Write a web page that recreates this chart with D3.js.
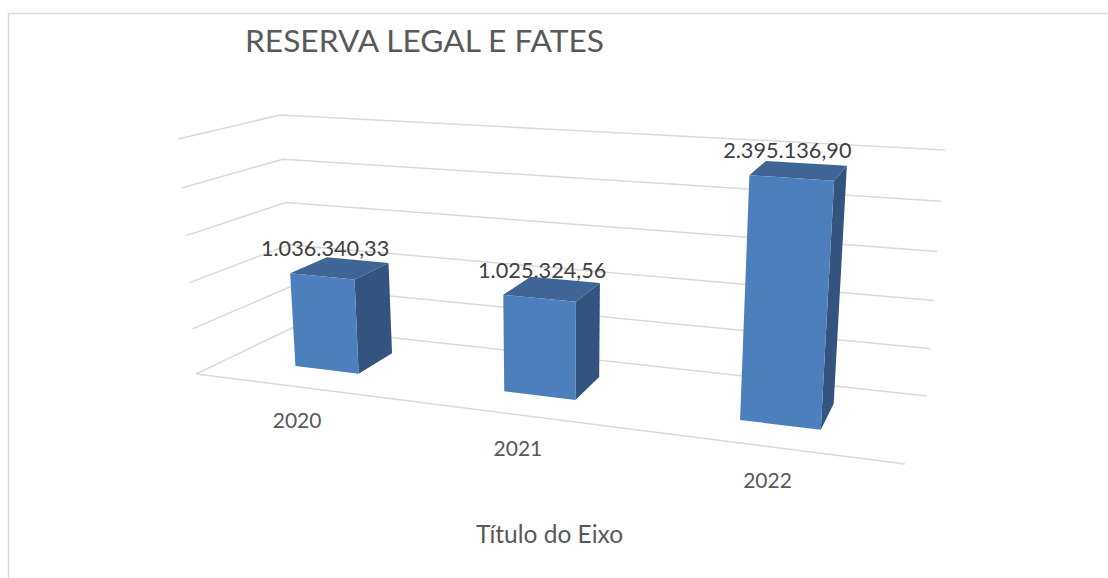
<!DOCTYPE html>
<html>
<head>
<meta charset="utf-8">
<script src="https://cdn.jsdelivr.net/npm/d3@7"></script>
<style>
  html, body { margin: 0; background: #fff; }
  text { font-family: Lato, "Open Sans", sans-serif; }
</style>
</head>
<body>
<div id="chart"></div>
<script>
var title = "RESERVA LEGAL E FATES";
var axisTitle = "Título do Eixo";
var years = ["2020", "2021", "2022"];
var values = [1036340.33, 1025324.56, 2395136.90];
var valueLabels = ["1.036.340,33", "1.025.324,56", "2.395.136,90"];
var gridValues = [0, 500000, 1000000, 1500000, 2000000, 2500000];

var width = 1108, height = 578;

// corners of the 3d box on screen: f = front, b = back, l/r = left/right, 0/1 = floor/top
var box = {
  fl0: [196, 374], fr0: [905, 464], bl0: [294, 327], br0: [927, 396],
  fl1: [178, 139], fr1: [924, 188], bl1: [280, 115], br1: [945, 150]
};

var persp = function(t, c) { return t * (1 + c) / (1 + c * t); };

var xBand = d3.scaleBand().domain(years).range([0, 1]).paddingInner(0.685).paddingOuter(0.3425);
var yScale = d3.scaleLinear().domain([0, 2500000]).range([0, 1]);
var depthFront = 0.34, depthBack = 0.74;

// t: 0..1 along the category axis, d: 0..1 into the depth, val: data value
function project(t, d, val) {
  var u = persp(t, -0.1685), h = persp(yScale(val), -0.05);
  return [0, 1].map(function(i) {
    var front0 = box.fl0[i] + (box.fr0[i] - box.fl0[i]) * u,
        back0 = box.bl0[i] + (box.br0[i] - box.bl0[i]) * u,
        front1 = box.fl1[i] + (box.fr1[i] - box.fl1[i]) * u,
        back1 = box.bl1[i] + (box.br1[i] - box.bl1[i]) * u,
        floor = front0 + (back0 - front0) * d,
        top = front1 + (back1 - front1) * d;
    return floor + (top - floor) * h;
  });
}

var svg = d3.select("#chart").append("svg")
  .attr("width", width)
  .attr("height", height)
  .style("display", "block");

// chart frame, only top and left show in the crop
svg.append("path")
  .attr("d", "M8.5," + height + "V13.5H" + width)
  .attr("fill", "none")
  .attr("stroke", "#d9d9d9")
  .attr("stroke-width", 1.5);

var line = d3.line();

// grid on the side and back walls
var grid = svg.append("g").attr("fill", "none").attr("stroke", "#d9d9d9").attr("stroke-width", 1.5);
grid.selectAll("path.wall").data(gridValues).enter().append("path")
  .attr("class", "wall")
  .attr("d", function(v) {
    return line([project(0, 0, v), project(0, 1, v), project(1, 1, v)]);
  });
grid.append("path").attr("d", line([project(0, 0, 0), project(1, 0, 0)]));

// bars
var rows = years.map(function(y, i) { return { year: y, value: values[i], label: valueLabels[i] }; });
var bars = svg.selectAll("g.bar").data(rows).enter().append("g").attr("class", "bar");

var corners = function(d) {
  var a = xBand(d.year), b = a + xBand.bandwidth();
  return {
    a: a, b: b,
    top: [project(a, depthFront, d.value), project(b, depthFront, d.value), project(b, depthBack, d.value), project(a, depthBack, d.value)],
    bottom: [project(a, depthFront, 0), project(b, depthFront, 0), project(b, depthBack, 0)]
  };
};

bars.append("path")
  .attr("fill", "#32547e")
  .attr("d", function(d) {
    var c = corners(d);
    return line([c.top[1], c.top[2], c.bottom[2], c.bottom[1]]) + "Z";
  });
bars.append("path")
  .attr("fill", "#3e6595")
  .attr("d", function(d) { return line(corners(d).top) + "Z"; });
bars.append("path")
  .attr("fill", "#4e7fbd")
  .attr("d", function(d) {
    var c = corners(d);
    return line([c.top[0], c.top[1], c.bottom[1], c.bottom[0]]) + "Z";
  });

// value labels sit a bit off the bar centre, as in the original
var labelNudge = [3, 3, -4];
svg.selectAll("text.value").data(rows).enter().append("text")
  .attr("class", "value")
  .attr("text-anchor", "middle")
  .attr("fill", "#404040")
  .attr("font-size", 21.7)
  .attr("x", function(d, i) { return project(xBand(d.year) + xBand.bandwidth() / 2, depthFront, d.value)[0] + labelNudge[i]; })
  .attr("y", function(d) { return project(xBand(d.year) + xBand.bandwidth() / 2, depthFront, d.value)[1] - 20; })
  .text(function(d) { return d.label; });

// category labels follow the front edge
svg.selectAll("text.year").data(years).enter().append("text")
  .attr("class", "year")
  .attr("text-anchor", "middle")
  .attr("fill", "#595959")
  .attr("font-size", 21)
  .attr("x", function(y) { return project(xBand(y) + xBand.bandwidth() / 2, 0, 0)[0]; })
  .attr("y", function(y) { return project(xBand(y) + xBand.bandwidth() / 2, 0, 0)[1] + 41; })
  .text(function(y) { return y; });

svg.append("text")
  .attr("text-anchor", "middle")
  .attr("x", 549.5)
  .attr("y", 543)
  .attr("fill", "#595959")
  .attr("font-size", 24.5)
  .text(axisTitle);

svg.append("text")
  .attr("x", 245)
  .attr("y", 52)
  .attr("fill", "#595959")
  .attr("font-size", 31.7)
  .text(title);
</script>
</body>
</html>
